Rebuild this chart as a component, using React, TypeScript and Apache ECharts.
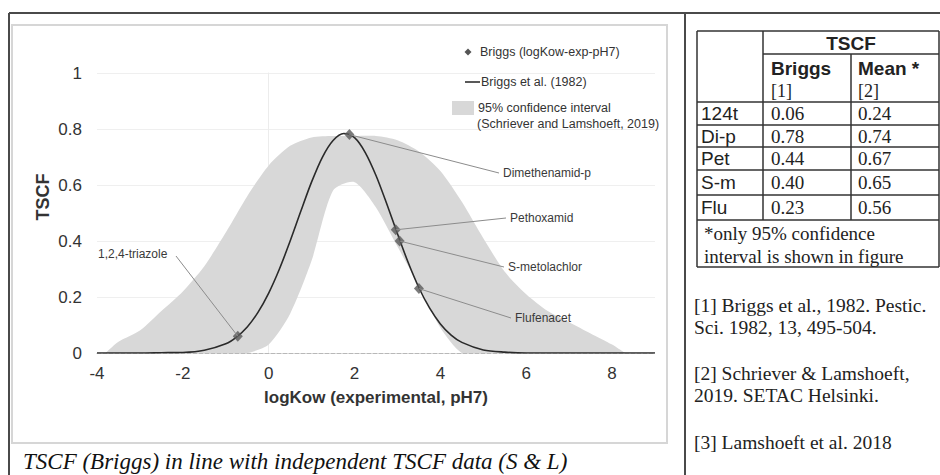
import React, { useEffect, useRef } from "react";
import * as echarts from "echarts";

// ---------------- data ----------------
const curveLogKow = [-4, -3.5, -3, -2.5, -2, -1.5, -1, -0.75, -0.5, -0.25, 0, 0.25, 0.5, 0.75, 1, 1.25, 1.5, 1.75, 2, 2.25, 2.5, 2.75, 3, 3.25, 3.5, 3.75, 4, 4.25, 4.5, 5, 5.5, 6, 6.5, 7, 7.5, 8, 8.5, 9];
const curveTSCF = [0, 0, 0, 0.001, 0.002, 0.01, 0.033, 0.057, 0.093, 0.145, 0.214, 0.3, 0.4, 0.507, 0.611, 0.699, 0.759, 0.784, 0.769, 0.716, 0.634, 0.533, 0.426, 0.323, 0.233, 0.16, 0.104, 0.064, 0.038, 0.011, 0.003, 0, 0, 0, 0, 0, 0, 0];

const bandLogKow = [-3.8, -3.5, -3, -2.5, -2, -1.5, -1, -0.5, 0, 0.5, 1, 1.5, 2, 2.5, 3, 3.5, 4, 4.5, 5, 5.5, 6, 6.5, 7, 7.5, 8, 8.3];
const bandUpper = [0, 0.04, 0.08, 0.15, 0.22, 0.31, 0.43, 0.56, 0.67, 0.74, 0.77, 0.775, 0.775, 0.775, 0.76, 0.72, 0.65, 0.54, 0.41, 0.29, 0.21, 0.15, 0.11, 0.07, 0.03, 0];
const bandLower = [0, 0, 0, 0, 0, 0, 0, 0, 0.03, 0.14, 0.33, 0.58, 0.61, 0.52, 0.38, 0.24, 0.09, 0, 0, 0, 0, 0, 0, 0, 0, 0];

const compoundNames = ["1,2,4-triazole", "Dimethenamid-p", "Pethoxamid", "S-metolachlor", "Flufenacet"];
const compoundAbbr = ["124t", "Di-p", "Pet", "S-m", "Flu"];
const compoundLogKow = [-0.72, 1.88, 2.96, 3.05, 3.5];
const briggsTSCF = [0.06, 0.78, 0.44, 0.4, 0.23];
const meanTSCF = [0.24, 0.74, 0.67, 0.65, 0.56];

const seriesNames = ["Briggs (logKow-exp-pH7)", "Briggs et al. (1982)", "95% confidence interval", "(Schriever and Lamshoeft, 2019)"];
const tableHeader = ["TSCF", "Briggs", "[1]", "Mean *", "[2]"];
const tableNote = ["*only 95% confidence", "interval is shown in figure"];
const references = [
  ["[1] Briggs et al., 1982. Pestic.", "Sci. 1982, 13, 495-504."],
  ["[2] Schriever & Lamshoeft,", "2019. SETAC Helsinki."],
  ["[3] Lamshoeft et al. 2018"],
];
const caption = "TSCF (Briggs) in line with independent TSCF data (S & L)";
const xAxisTitle = "logKow (experimental, pH7)";
const yAxisTitle = "TSCF";

// ---------------- layout / style ----------------
const SANS = '"Liberation Sans", Arial, sans-serif';
const SERIF = '"Liberation Serif", "Times New Roman", serif';
const labelSpots = [
  { x: 98, y: 254, lx: 176, ly: 256 },
  { x: 503, y: 173, lx: 499, ly: 173 },
  { x: 510, y: 218, lx: 506, ly: 218 },
  { x: 508, y: 267, lx: 504, ly: 267 },
  { x: 515, y: 318, lx: 511, ly: 318 },
];
const T = { left: 697, c1: 763, c2: 851, right: 939 };
const rowLines = [31, 54, 102, 125, 147, 170, 195, 220, 267];

function txt(x: number, y: number, text: string, font: string, align = "left", fill = "#333", extra: any = {}) {
  return { type: "text", x, y, silent: true, z: 20, style: { text, font, fill, align, verticalAlign: "middle" }, ...extra };
}
function ln(x1: number, y1: number, x2: number, y2: number, stroke: string, lineWidth: number, z = 20) {
  return { type: "line", silent: true, z, shape: { x1, y1, x2, y2 }, style: { stroke, lineWidth } };
}

export default function App() {
  const ref = useRef<HTMLDivElement>(null);
  useEffect(() => {
    if (!ref.current) return;
    const chart = echarts.init(ref.current, null, { renderer: "svg" });
    chart.setOption({
      animation: false,
      backgroundColor: "#ffffff",
      grid: { left: 97, right: 285, top: 73, bottom: 122 },
      xAxis: {
        type: "value",
        min: -4,
        max: 9,
        interval: 2,
        axisLine: { show: true, onZero: true, lineStyle: { color: "#b8b8b8", type: "dashed", width: 1 } },
        axisTick: { show: false },
        splitLine: { show: false },
        axisLabel: { margin: 12, fontSize: 17, color: "#333", fontFamily: SANS, showMaxLabel: false },
        name: xAxisTitle,
        nameLocation: "middle",
        nameGap: 36,
        nameTextStyle: { fontWeight: "bold", fontSize: 17, color: "#333", fontFamily: SANS },
      },
      yAxis: {
        type: "value",
        min: 0,
        max: 1,
        interval: 0.2,
        axisLine: { show: true, lineStyle: { color: "#ececec" } },
        axisTick: { show: false },
        splitLine: { show: true, lineStyle: { color: "#efefef" } },
        axisLabel: { margin: 15, fontSize: 17, color: "#333", fontFamily: SANS },
      },
      series: [
        {
          type: "custom",
          name: seriesNames[2],
          silent: true,
          clip: true,
          z: 1,
          data: [[bandLogKow[0], 0]],
          renderItem: (params: any, api: any) => {
            const pts: number[][] = [];
            for (let i = 0; i < bandLogKow.length; i++) pts.push(api.coord([bandLogKow[i], bandUpper[i]]));
            for (let i = bandLogKow.length - 1; i >= 0; i--) pts.push(api.coord([bandLogKow[i], bandLower[i]]));
            return { type: "polygon", shape: { points: pts, smooth: 0.25 }, style: { fill: "#d8d8d8" } };
          },
        },
        {
          type: "line",
          name: seriesNames[1],
          data: curveLogKow.map((x, i) => [x, curveTSCF[i]]),
          smooth: 0.3,
          showSymbol: false,
          lineStyle: { color: "#2a2a2a", width: 1.6 },
          z: 3,
        },
        {
          type: "scatter",
          name: seriesNames[0],
          data: compoundLogKow.map((x, i) => [x, briggsTSCF[i]]),
          symbol: "diamond",
          symbolSize: [10, 11],
          itemStyle: { color: "#5a5a5a" },
          z: 4,
        },
      ],
    });

    const pts = compoundLogKow.map((x, i) => chart.convertToPixel({ gridIndex: 0 } as any, [x, briggsTSCF[i]]) as number[]);
    const g: any[] = [];

    // outer slide frame
    g.push(ln(9, 13, 940, 13, "#4a4a4a", 2, 5));
    g.push(ln(9, 13, 9, 475, "#4a4a4a", 2, 5));
    g.push(ln(685, 13, 685, 475, "#4a4a4a", 2, 5));
    // chart panel box
    g.push({ type: "rect", silent: true, z: 0, shape: { x: 12, y: 25, width: 655, height: 418 }, style: { fill: "none", stroke: "#d6d6d6", lineWidth: 2 } });

    // y axis title
    g.push(txt(43, 197, yAxisTitle, `bold 18px ${SANS}`, "center", "#333", { rotation: Math.PI / 2 }));

    // legend
    g.push({ type: "polygon", silent: true, z: 20, shape: { points: [[468, 48.5], [471.5, 52], [468, 55.5], [464.5, 52]] }, style: { fill: "#555" } });
    g.push(txt(480, 52, seriesNames[0], `12.5px ${SANS}`));
    g.push(ln(465, 82, 480, 82, "#222", 1.5));
    g.push(txt(481, 82, seriesNames[1], `12.5px ${SANS}`));
    g.push({ type: "rect", silent: true, z: 20, shape: { x: 452, y: 101, width: 22, height: 14 }, style: { fill: "#d8d8d8" } });
    g.push(txt(478, 108, seriesNames[2], `12.5px ${SANS}`));
    g.push(txt(477, 124, seriesNames[3], `12.5px ${SANS}`));

    // data labels with leader lines
    compoundNames.forEach((name, i) => {
      const s = labelSpots[i];
      g.push(ln(pts[i][0], pts[i][1], s.lx, s.ly, "#8c8c8c", 1, 15));
      g.push(txt(s.x, s.y, name, `12px ${SANS}`, "left", "#3a3a3a"));
    });

    // caption
    g.push(txt(23, 461, caption, `italic 23px ${SERIF}`, "left", "#111"));

    // table lines
    const tc = "#333";
    g.push(ln(T.left, rowLines[0], T.right, rowLines[0], tc, 1.5));
    g.push(ln(T.c1, rowLines[1], T.right, rowLines[1], tc, 1.5));
    for (let r = 2; r < rowLines.length; r++) g.push(ln(T.left, rowLines[r], T.right, rowLines[r], tc, 1.5));
    g.push(ln(T.left, rowLines[0], T.left, rowLines[8], tc, 1.5));
    g.push(ln(T.right, rowLines[0], T.right, rowLines[8], tc, 1.5));
    g.push(ln(T.c1, rowLines[0], T.c1, rowLines[7], tc, 1.5));
    g.push(ln(T.c2, rowLines[1], T.c2, rowLines[7], tc, 1.5));

    // table header
    g.push(txt((T.c1 + T.right) / 2, 43, tableHeader[0], `bold 19px ${SANS}`, "center", "#222"));
    g.push(txt(T.c1 + 8, 68, tableHeader[1], `bold 19px ${SANS}`, "left", "#222"));
    g.push(txt(T.c1 + 8, 91, tableHeader[2], `18px ${SERIF}`, "left", "#222"));
    g.push(txt(T.c2 + 7, 68, tableHeader[3], `bold 19px ${SANS}`, "left", "#222"));
    g.push(txt(T.c2 + 7, 91, tableHeader[4], `18px ${SERIF}`, "left", "#222"));
    // table body
    compoundAbbr.forEach((ab, i) => {
      const cy = (rowLines[i + 2] + rowLines[i + 3]) / 2;
      g.push(txt(T.left + 4, cy, ab, `19px ${SANS}`, "left", "#222"));
      g.push(txt(T.c1 + 8, cy, briggsTSCF[i].toFixed(2), `19px ${SERIF}`, "left", "#222"));
      g.push(txt(T.c2 + 7, cy, meanTSCF[i].toFixed(2), `19px ${SERIF}`, "left", "#222"));
    });
    g.push(txt(T.left + 7, 233, tableNote[0], `19px ${SERIF}`, "left", "#222"));
    g.push(txt(T.left + 7, 256, tableNote[1], `19px ${SERIF}`, "left", "#222"));

    // references
    const refY = [[305, 327], [373, 395], [442]];
    references.forEach((lines, i) => lines.forEach((l, j) => g.push(txt(694, refY[i][j], l, `19.5px ${SERIF}`, "left", "#222"))));

    chart.setOption({ graphic: { elements: g } });

    return () => chart.dispose();
  }, []);
  return <div ref={ref} style={{ position: "absolute", left: 0, top: 0, width: 940, height: 475 }} />;
}
